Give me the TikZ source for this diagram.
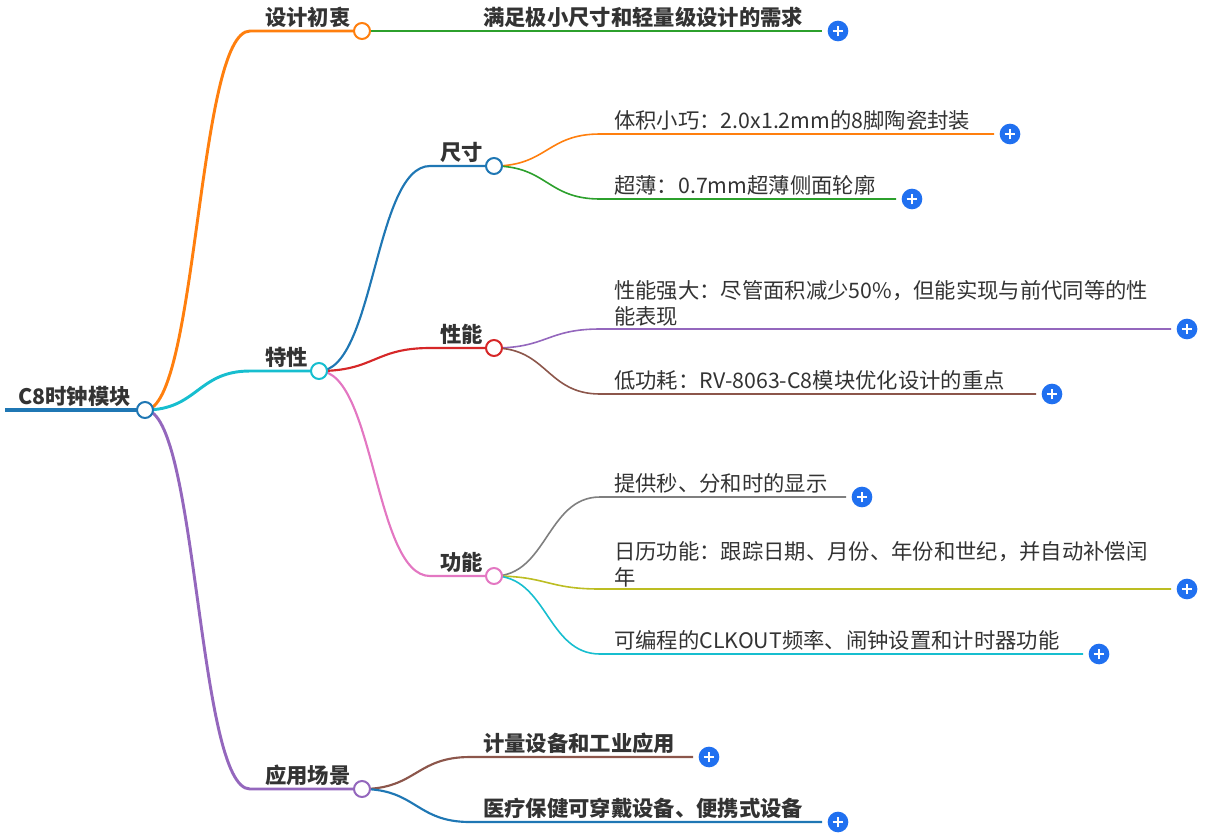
\documentclass[tikz,border=0pt]{standalone}
\usepackage{fontspec}
\setmainfont{Noto Sans CJK SC}
\usetikzlibrary{calc,backgrounds}
\definecolor{cOrange}{HTML}{FF7F0E}
\definecolor{cGreen}{HTML}{2CA02C}
\definecolor{cCyan}{HTML}{17BECF}
\definecolor{cPurple}{HTML}{9467BD}
\definecolor{cBlue}{HTML}{1F77B4}
\definecolor{cRed}{HTML}{D62728}
\definecolor{cPink}{HTML}{E377C2}
\definecolor{cBrown}{HTML}{8C564B}
\definecolor{cGray}{HTML}{7F7F7F}
\definecolor{cOlive}{HTML}{BCBD22}
\definecolor{plusc}{RGB}{32,112,240}
\definecolor{txtc}{HTML}{333333}
\newcommand\mmedge[4]{\draw[#1] let \p1=(#2), \p2=(#3) in (\p1) .. controls ({(\x1+\x2)/2},\y1) and ({(\x1+\x2)/2},\y2) .. (\p2) -- (#4);}
\begin{document}
\begin{tikzpicture}[x=0.75pt,y=-0.75pt,
  txt/.style={anchor=base west, inner sep=0pt, text=txtc, font=\fontsize{16}{19.5}\selectfont},
  mtxt/.style={anchor=south west, inner sep=0pt, text=txtc, align=left, font=\fontsize{16}{19.5}\selectfont},
  btxt/.style={txt, font=\fontsize{16}{19.5}\selectfont\bfseries},
  dot/.style={circle, draw=#1, fill=white, line width=1.5pt, minimum size=12pt, inner sep=0pt},
  plusnode/.style={circle, fill=plusc, minimum size=15.5pt, inner sep=0pt,
    path picture={\draw[white, line width=1.5pt] ([xshift=-4pt]path picture bounding box.center) -- ([xshift=4pt]path picture bounding box.center);
      \draw[white, line width=1.5pt] ([yshift=-4pt]path picture bounding box.center) -- ([yshift=4pt]path picture bounding box.center);}},
  lone/.style={line width=2.2pt},
  ltwo/.style={line width=1.6pt},
  lthree/.style={line width=1.2pt}]
\useasboundingbox (0,0) rectangle (1205,836);

% ---------- root ----------
\coordinate (rootstart) at (5,410);
\node[btxt] (root) at (18,404) {C8时钟模块};
\node[dot=cBlue] (rc) at (145,410) {};

% ---------- level 1 ----------
\coordinate (As) at (250,31);
\node[btxt] (A) at (265,25) {设计初衷};
\node[dot=cOrange] (Ac) at (362,31) {};

\coordinate (Bs) at (250,371);
\node[btxt] (B) at (265,365) {特性};
\node[dot=cCyan] (Bc) at (319,371) {};

\coordinate (Cs) at (250,789);
\node[btxt] (C) at (265,783) {应用场景};
\node[dot=cPurple] (Cc) at (362,789) {};

% ---------- 设计初衷 child ----------
\coordinate (A1s) at (470,31);
\node[btxt] (A1) at (483,25) {满足极小尺寸和轻量级设计的需求};
\node[plusnode] (A1p) at (838,31) {};

% ---------- level 2 under 特性 ----------
\coordinate (B1s) at (430,166);
\node[btxt] (B1) at (440,160) {尺寸};
\node[dot=cBlue] (B1c) at (494,166) {};

\coordinate (B2s) at (430,348);
\node[btxt] (B2) at (440,342) {性能};
\node[dot=cRed] (B2c) at (494,348) {};

\coordinate (B3s) at (430,576);
\node[btxt] (B3) at (440,570) {功能};
\node[dot=cPink] (B3c) at (494,576) {};

% ---------- leaves ----------
\coordinate (B11s) at (600,134);
\node[txt] (B11) at (614,128) {体积小巧：2.0x1.2mm的8脚陶瓷封装};
\node[plusnode] (B11p) at (1010,134) {};

\coordinate (B12s) at (600,199);
\node[txt] (B12) at (614,193) {超薄：0.7mm超薄侧面轮廓};
\node[plusnode] (B12p) at (912,199) {};

\coordinate (B21s) at (600,329);
\node[mtxt] (B21) at (614,327) {性能强大：尽管面积减少50\%，但能实现与前代同等的性\\能表现};
\node[plusnode] (B21p) at (1187,329) {};

\coordinate (B22s) at (600,394);
\node[txt] (B22) at (614,388) {低功耗：RV-8063-C8模块优化设计的重点};
\node[plusnode] (B22p) at (1052,394) {};

\coordinate (B31s) at (600,497);
\node[txt] (B31) at (614,491) {提供秒、分和时的显示};
\node[plusnode] (B31p) at (862,497) {};

\coordinate (B32s) at (600,589);
\node[mtxt] (B32) at (614,587) {日历功能：跟踪日期、月份、年份和世纪，并自动补偿闰\\年};
\node[plusnode] (B32p) at (1187,589) {};

\coordinate (B33s) at (600,654);
\node[txt] (B33) at (614,648) {可编程的CLKOUT频率、闹钟设置和计时器功能};
\node[plusnode] (B33p) at (1099,654) {};

\coordinate (C1s) at (470,757);
\node[btxt] (C1) at (483,751) {计量设备和工业应用};
\node[plusnode] (C1p) at (709,757) {};

\coordinate (C2s) at (470,822);
\node[btxt] (C2) at (483,816) {医疗保健可穿戴设备、便携式设备};
\node[plusnode] (C2p) at (838,822) {};

% ---------- connectors ----------
\begin{pgfonlayer}{background}
\draw[cBlue, line width=3pt] (rootstart) -- (rc.center);
\mmedge{cOrange, lone}{rc.center}{As}{Ac.center}
\mmedge{cCyan, lone}{rc.center}{Bs}{Bc.center}
\mmedge{cPurple, lone}{rc.center}{Cs}{Cc.center}

\mmedge{cGreen, ltwo}{Ac.center}{A1s}{[xshift=-4pt]A1p.west}

\mmedge{cBlue, ltwo}{Bc.center}{B1s}{B1c.center}
\mmedge{cRed, ltwo}{Bc.center}{B2s}{B2c.center}
\mmedge{cPink, ltwo}{Bc.center}{B3s}{B3c.center}

\mmedge{cOrange, lthree}{B1c.center}{B11s}{[xshift=-4pt]B11p.west}
\mmedge{cGreen, lthree}{B1c.center}{B12s}{[xshift=-4pt]B12p.west}
\mmedge{cPurple, lthree}{B2c.center}{B21s}{[xshift=-4pt]B21p.west}
\mmedge{cBrown, lthree}{B2c.center}{B22s}{[xshift=-4pt]B22p.west}
\mmedge{cGray, lthree}{B3c.center}{B31s}{[xshift=-4pt]B31p.west}
\mmedge{cOlive, lthree}{B3c.center}{B32s}{[xshift=-4pt]B32p.west}
\mmedge{cCyan, lthree}{B3c.center}{B33s}{[xshift=-4pt]B33p.west}

\mmedge{cBrown, ltwo}{Cc.center}{C1s}{[xshift=-4pt]C1p.west}
\mmedge{cBlue, ltwo}{Cc.center}{C2s}{[xshift=-4pt]C2p.west}
\end{pgfonlayer}
\end{tikzpicture}
\end{document}
